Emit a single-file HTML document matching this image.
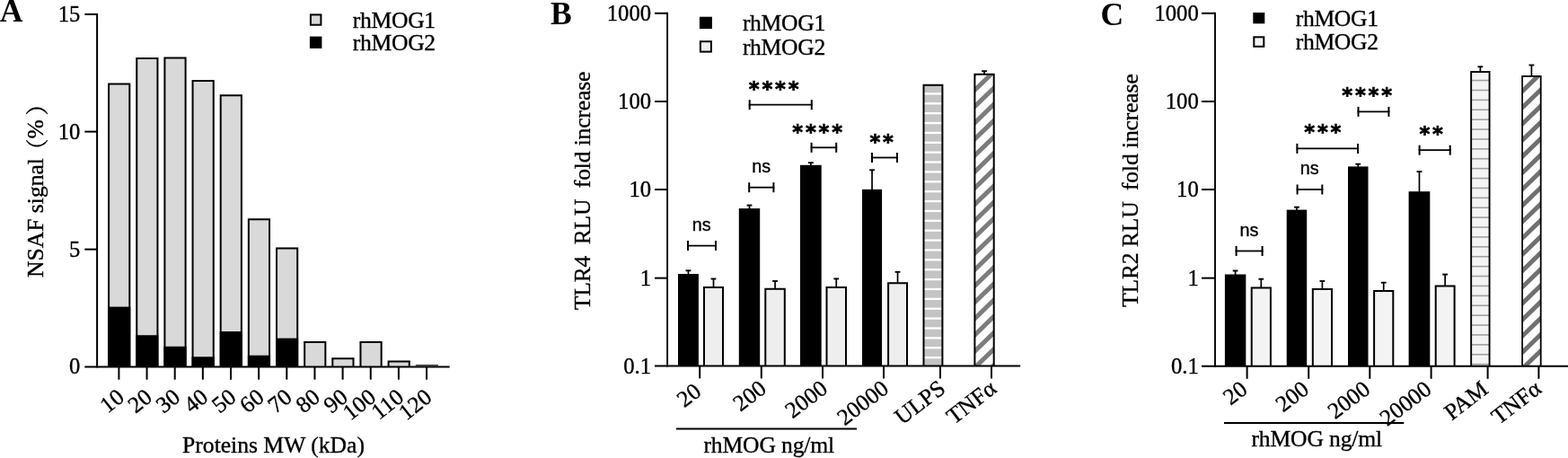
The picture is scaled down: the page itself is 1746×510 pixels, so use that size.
<!DOCTYPE html>
<html><head><meta charset="utf-8"><title>Figure</title>
<style>html,body{margin:0;padding:0;background:#fff;overflow:hidden}svg{display:block}</style>
</head><body>
<svg width="1746" height="510" viewBox="0 0 1746 510">
<rect width="1746" height="510" fill="#fff"/>
<text x="89.30" y="416.30" font-size="25.6" font-family="Liberation Serif, Noto Serif CJK SC, serif" font-weight="normal" text-anchor="end" textLength="12.29" lengthAdjust="spacingAndGlyphs" stroke="#000" stroke-width="0.35">0</text>
<line x1="94.30" y1="277.65" x2="108.10" y2="277.65" stroke="#000" stroke-width="2"/>
<text x="89.30" y="285.55" font-size="25.6" font-family="Liberation Serif, Noto Serif CJK SC, serif" font-weight="normal" text-anchor="end" textLength="12.29" lengthAdjust="spacingAndGlyphs" stroke="#000" stroke-width="0.35">5</text>
<line x1="94.30" y1="146.60" x2="108.10" y2="146.60" stroke="#000" stroke-width="2"/>
<text x="89.30" y="154.50" font-size="25.6" font-family="Liberation Serif, Noto Serif CJK SC, serif" font-weight="normal" text-anchor="end" textLength="24.58" lengthAdjust="spacingAndGlyphs" stroke="#000" stroke-width="0.35">10</text>
<line x1="94.30" y1="15.90" x2="108.10" y2="15.90" stroke="#000" stroke-width="2"/>
<text x="89.30" y="23.80" font-size="25.6" font-family="Liberation Serif, Noto Serif CJK SC, serif" font-weight="normal" text-anchor="end" textLength="24.58" lengthAdjust="spacingAndGlyphs" stroke="#000" stroke-width="0.35">15</text>
<rect x="121.10" y="93.50" width="23.20" height="314.90" fill="#d9d9d9"/>
<path d="M121.10 408.40V93.50H144.30V408.40" fill="none" stroke="#000" stroke-width="2"/>
<rect x="120.10" y="341.60" width="25.20" height="66.80" fill="#000"/>
<line x1="132.40" y1="408.40" x2="132.40" y2="422.70" stroke="#000" stroke-width="2"/>
<text x="139.90" y="445.00" font-size="25.6" font-family="Liberation Serif, Noto Serif CJK SC, serif" font-weight="normal" text-anchor="end" transform="rotate(-38.5 139.90 445.00)" stroke="#000" stroke-width="0.35">10</text>
<rect x="152.25" y="65.00" width="23.20" height="343.40" fill="#d9d9d9"/>
<path d="M152.25 408.40V65.00H175.45V408.40" fill="none" stroke="#000" stroke-width="2"/>
<rect x="151.25" y="373.23" width="25.20" height="35.17" fill="#000"/>
<line x1="163.55" y1="408.40" x2="163.55" y2="422.70" stroke="#000" stroke-width="2"/>
<text x="171.05" y="445.00" font-size="25.6" font-family="Liberation Serif, Noto Serif CJK SC, serif" font-weight="normal" text-anchor="end" transform="rotate(-38.5 171.05 445.00)" stroke="#000" stroke-width="0.35">20</text>
<rect x="183.40" y="64.48" width="23.20" height="343.92" fill="#d9d9d9"/>
<path d="M183.40 408.40V64.48H206.60V408.40" fill="none" stroke="#000" stroke-width="2"/>
<rect x="182.40" y="385.78" width="25.20" height="22.62" fill="#000"/>
<line x1="194.70" y1="408.40" x2="194.70" y2="422.70" stroke="#000" stroke-width="2"/>
<text x="202.20" y="445.00" font-size="25.6" font-family="Liberation Serif, Noto Serif CJK SC, serif" font-weight="normal" text-anchor="end" transform="rotate(-38.5 202.20 445.00)" stroke="#000" stroke-width="0.35">30</text>
<rect x="214.55" y="90.10" width="23.20" height="318.30" fill="#d9d9d9"/>
<path d="M214.55 408.40V90.10H237.75V408.40" fill="none" stroke="#000" stroke-width="2"/>
<rect x="213.55" y="397.28" width="25.20" height="11.12" fill="#000"/>
<line x1="225.85" y1="408.40" x2="225.85" y2="422.70" stroke="#000" stroke-width="2"/>
<text x="233.35" y="445.00" font-size="25.6" font-family="Liberation Serif, Noto Serif CJK SC, serif" font-weight="normal" text-anchor="end" transform="rotate(-38.5 233.35 445.00)" stroke="#000" stroke-width="0.35">40</text>
<rect x="245.70" y="106.31" width="23.20" height="302.09" fill="#d9d9d9"/>
<path d="M245.70 408.40V106.31H268.90V408.40" fill="none" stroke="#000" stroke-width="2"/>
<rect x="244.70" y="369.05" width="25.20" height="39.35" fill="#000"/>
<line x1="257.00" y1="408.40" x2="257.00" y2="422.70" stroke="#000" stroke-width="2"/>
<text x="264.50" y="445.00" font-size="25.6" font-family="Liberation Serif, Noto Serif CJK SC, serif" font-weight="normal" text-anchor="end" transform="rotate(-38.5 264.50 445.00)" stroke="#000" stroke-width="0.35">50</text>
<rect x="276.85" y="244.32" width="23.20" height="164.07" fill="#d9d9d9"/>
<path d="M276.85 408.40V244.32H300.05V408.40" fill="none" stroke="#000" stroke-width="2"/>
<rect x="275.85" y="395.71" width="25.20" height="12.69" fill="#000"/>
<line x1="288.15" y1="408.40" x2="288.15" y2="422.70" stroke="#000" stroke-width="2"/>
<text x="295.65" y="445.00" font-size="25.6" font-family="Liberation Serif, Noto Serif CJK SC, serif" font-weight="normal" text-anchor="end" transform="rotate(-38.5 295.65 445.00)" stroke="#000" stroke-width="0.35">60</text>
<rect x="308.00" y="276.48" width="23.20" height="131.92" fill="#d9d9d9"/>
<path d="M308.00 408.40V276.48H331.20V408.40" fill="none" stroke="#000" stroke-width="2"/>
<rect x="307.00" y="376.63" width="25.20" height="31.77" fill="#000"/>
<line x1="319.30" y1="408.40" x2="319.30" y2="422.70" stroke="#000" stroke-width="2"/>
<text x="326.80" y="445.00" font-size="25.6" font-family="Liberation Serif, Noto Serif CJK SC, serif" font-weight="normal" text-anchor="end" transform="rotate(-38.5 326.80 445.00)" stroke="#000" stroke-width="0.35">70</text>
<rect x="339.15" y="381.04" width="23.20" height="27.36" fill="#d9d9d9"/>
<path d="M339.15 408.40V381.04H362.35V408.40" fill="none" stroke="#000" stroke-width="2"/>
<line x1="350.45" y1="408.40" x2="350.45" y2="422.70" stroke="#000" stroke-width="2"/>
<text x="357.95" y="445.00" font-size="25.6" font-family="Liberation Serif, Noto Serif CJK SC, serif" font-weight="normal" text-anchor="end" transform="rotate(-38.5 357.95 445.00)" stroke="#000" stroke-width="0.35">80</text>
<rect x="370.30" y="399.34" width="23.20" height="9.06" fill="#d9d9d9"/>
<path d="M370.30 408.40V399.34H393.50V408.40" fill="none" stroke="#000" stroke-width="2"/>
<line x1="381.60" y1="408.40" x2="381.60" y2="422.70" stroke="#000" stroke-width="2"/>
<text x="389.10" y="445.00" font-size="25.6" font-family="Liberation Serif, Noto Serif CJK SC, serif" font-weight="normal" text-anchor="end" transform="rotate(-38.5 389.10 445.00)" stroke="#000" stroke-width="0.35">90</text>
<rect x="401.45" y="381.04" width="23.20" height="27.36" fill="#d9d9d9"/>
<path d="M401.45 408.40V381.04H424.65V408.40" fill="none" stroke="#000" stroke-width="2"/>
<line x1="412.75" y1="408.40" x2="412.75" y2="422.70" stroke="#000" stroke-width="2"/>
<text x="420.25" y="445.00" font-size="25.6" font-family="Liberation Serif, Noto Serif CJK SC, serif" font-weight="normal" text-anchor="end" transform="rotate(-38.5 420.25 445.00)" stroke="#000" stroke-width="0.35">100</text>
<rect x="432.60" y="402.47" width="23.20" height="5.93" fill="#d9d9d9"/>
<path d="M432.60 408.40V402.47H455.80V408.40" fill="none" stroke="#000" stroke-width="2"/>
<line x1="443.90" y1="408.40" x2="443.90" y2="422.70" stroke="#000" stroke-width="2"/>
<text x="451.40" y="445.00" font-size="25.6" font-family="Liberation Serif, Noto Serif CJK SC, serif" font-weight="normal" text-anchor="end" transform="rotate(-38.5 451.40 445.00)" stroke="#000" stroke-width="0.35">110</text>
<line x1="462.75" y1="406.80" x2="487.95" y2="406.80" stroke="#000" stroke-width="1.2"/>
<line x1="475.05" y1="408.40" x2="475.05" y2="422.70" stroke="#000" stroke-width="2"/>
<text x="482.55" y="445.00" font-size="25.6" font-family="Liberation Serif, Noto Serif CJK SC, serif" font-weight="normal" text-anchor="end" transform="rotate(-38.5 482.55 445.00)" stroke="#000" stroke-width="0.35">120</text>
<line x1="108.10" y1="14.90" x2="108.10" y2="409.40" stroke="#000" stroke-width="2"/>
<line x1="94.30" y1="408.40" x2="500.70" y2="408.40" stroke="#000" stroke-width="2.0"/>
<text x="304.50" y="503.70" font-size="25.6" font-family="Liberation Serif, Noto Serif CJK SC, serif" font-weight="normal" text-anchor="middle" stroke="#000" stroke-width="0.35">Proteins MW (kDa)</text>
<text x="47.50" y="309.00" font-size="25.6" font-family="Liberation Serif, Noto Serif CJK SC, serif" font-weight="normal" text-anchor="start" transform="rotate(-90 47.50 309.00)" stroke="#000" stroke-width="0.35">NSAF signal<tspan dx="-4" dy="3">（</tspan><tspan dy="-3">%</tspan><tspan dx="4.5" dy="3">）</tspan></text>
<text x="-0.30" y="24.00" font-size="35.6" font-family="Liberation Serif, Noto Serif CJK SC, serif" font-weight="bold" text-anchor="start">A</text>
<rect x="345.90" y="16.40" width="11.50" height="11.30" fill="#d9d9d9" stroke="#000" stroke-width="2"/>
<rect x="345.90" y="41.60" width="11.50" height="11.30" fill="#000" stroke="#000" stroke-width="2"/>
<text x="392.80" y="31.20" font-size="25.6" font-family="Liberation Serif, Noto Serif CJK SC, serif" font-weight="normal" text-anchor="start" letter-spacing="-0.3" stroke="#000" stroke-width="0.35">rhMOG1</text>
<text x="392.80" y="55.80" font-size="25.6" font-family="Liberation Serif, Noto Serif CJK SC, serif" font-weight="normal" text-anchor="start" letter-spacing="-0.3" stroke="#000" stroke-width="0.35">rhMOG2</text>
<defs>
<pattern id="hB" width="20" height="10.83" patternUnits="userSpaceOnUse" y="4.4"><rect width="20" height="10.83" fill="#c4c4c4"/><rect y="0" width="20" height="2.2" fill="#fff"/></pattern>
<pattern id="hC" width="20" height="10.83" patternUnits="userSpaceOnUse"><rect width="20" height="10.83" fill="#f4f4f4"/><rect y="0" width="20" height="1.3" fill="#999"/></pattern>
<pattern id="dg" width="10.8" height="10.8" patternUnits="userSpaceOnUse" patternTransform="rotate(-45)"><rect width="10.8" height="10.8" fill="#fff"/><rect y="0" width="10.8" height="4.2" fill="#7a7a7a"/></pattern>
</defs>
<line x1="729.00" y1="14.80" x2="743.00" y2="14.80" stroke="#000" stroke-width="2"/>
<text x="725.15" y="22.90" font-size="25.6" font-family="Liberation Serif, Noto Serif CJK SC, serif" font-weight="normal" text-anchor="end" textLength="49.41" lengthAdjust="spacingAndGlyphs" stroke="#000" stroke-width="0.35">1000</text>
<line x1="729.00" y1="113.00" x2="743.00" y2="113.00" stroke="#000" stroke-width="2"/>
<text x="725.15" y="121.10" font-size="25.6" font-family="Liberation Serif, Noto Serif CJK SC, serif" font-weight="normal" text-anchor="end" textLength="37.06" lengthAdjust="spacingAndGlyphs" stroke="#000" stroke-width="0.35">100</text>
<line x1="729.00" y1="211.05" x2="743.00" y2="211.05" stroke="#000" stroke-width="2"/>
<text x="725.15" y="219.15" font-size="25.6" font-family="Liberation Serif, Noto Serif CJK SC, serif" font-weight="normal" text-anchor="end" textLength="24.70" lengthAdjust="spacingAndGlyphs" stroke="#000" stroke-width="0.35">10</text>
<line x1="729.00" y1="309.65" x2="743.00" y2="309.65" stroke="#000" stroke-width="2"/>
<text x="725.15" y="317.75" font-size="25.6" font-family="Liberation Serif, Noto Serif CJK SC, serif" font-weight="normal" text-anchor="end" textLength="12.35" lengthAdjust="spacingAndGlyphs" stroke="#000" stroke-width="0.35">1</text>
<text x="725.15" y="415.50" font-size="25.6" font-family="Liberation Serif, Noto Serif CJK SC, serif" font-weight="normal" text-anchor="end" textLength="30.88" lengthAdjust="spacingAndGlyphs" stroke="#000" stroke-width="0.35">0.1</text>
<line x1="766.45" y1="301.30" x2="766.45" y2="306.40" stroke="#000" stroke-width="1.7"/>
<line x1="763.55" y1="301.30" x2="769.35" y2="301.30" stroke="#000" stroke-width="1.9"/>
<rect x="755.00" y="305.00" width="22.90" height="102.40" fill="#000"/>
<line x1="794.50" y1="310.50" x2="794.50" y2="320.40" stroke="#000" stroke-width="1.7"/>
<line x1="791.60" y1="310.50" x2="797.40" y2="310.50" stroke="#000" stroke-width="1.9"/>
<rect x="784.00" y="320.00" width="21.00" height="87.40" fill="#eeeeee"/>
<path d="M784.00 407.40V320.00H805.00V407.40" fill="none" stroke="#000" stroke-width="2"/>
<line x1="834.50" y1="228.60" x2="834.50" y2="233.50" stroke="#000" stroke-width="1.7"/>
<line x1="831.60" y1="228.60" x2="837.40" y2="228.60" stroke="#000" stroke-width="1.9"/>
<rect x="822.80" y="232.10" width="23.40" height="175.30" fill="#000"/>
<line x1="863.05" y1="313.00" x2="863.05" y2="322.20" stroke="#000" stroke-width="1.7"/>
<line x1="860.15" y1="313.00" x2="865.95" y2="313.00" stroke="#000" stroke-width="1.9"/>
<rect x="852.30" y="321.80" width="21.50" height="85.60" fill="#eeeeee"/>
<path d="M852.30 407.40V321.80H873.80V407.40" fill="none" stroke="#000" stroke-width="2"/>
<line x1="902.85" y1="181.20" x2="902.85" y2="185.20" stroke="#000" stroke-width="1.7"/>
<line x1="899.95" y1="181.20" x2="905.75" y2="181.20" stroke="#000" stroke-width="1.9"/>
<rect x="891.00" y="183.80" width="23.70" height="223.60" fill="#000"/>
<line x1="931.25" y1="310.40" x2="931.25" y2="320.30" stroke="#000" stroke-width="1.7"/>
<line x1="928.35" y1="310.40" x2="934.15" y2="310.40" stroke="#000" stroke-width="1.9"/>
<rect x="920.50" y="319.90" width="21.50" height="87.50" fill="#eeeeee"/>
<path d="M920.50 407.40V319.90H942.00V407.40" fill="none" stroke="#000" stroke-width="2"/>
<line x1="971.05" y1="189.30" x2="971.05" y2="212.30" stroke="#000" stroke-width="1.7"/>
<line x1="968.15" y1="189.30" x2="973.95" y2="189.30" stroke="#000" stroke-width="1.9"/>
<rect x="960.00" y="210.90" width="22.10" height="196.50" fill="#000"/>
<line x1="999.55" y1="302.80" x2="999.55" y2="315.70" stroke="#000" stroke-width="1.7"/>
<line x1="996.65" y1="302.80" x2="1002.45" y2="302.80" stroke="#000" stroke-width="1.9"/>
<rect x="989.10" y="315.30" width="20.90" height="92.10" fill="#eeeeee"/>
<path d="M989.10 407.40V315.30H1010.00V407.40" fill="none" stroke="#000" stroke-width="2"/>
<clipPath id="c1"><rect x="1028.50" y="94.80" width="20.90" height="312.60"/></clipPath>
<g clip-path="url(#c1)">
<rect x="1027.50" y="93.80" width="22.90" height="313.60" fill="#c4c4c4"/>
<rect x="1027.50" y="92.36" width="22.90" height="2.30" fill="#fff"/>
<rect x="1027.50" y="103.24" width="22.90" height="2.30" fill="#fff"/>
<rect x="1027.50" y="114.12" width="22.90" height="2.30" fill="#fff"/>
<rect x="1027.50" y="125.00" width="22.90" height="2.30" fill="#fff"/>
<rect x="1027.50" y="135.88" width="22.90" height="2.30" fill="#fff"/>
<rect x="1027.50" y="146.76" width="22.90" height="2.30" fill="#fff"/>
<rect x="1027.50" y="157.64" width="22.90" height="2.30" fill="#fff"/>
<rect x="1027.50" y="168.52" width="22.90" height="2.30" fill="#fff"/>
<rect x="1027.50" y="179.40" width="22.90" height="2.30" fill="#fff"/>
<rect x="1027.50" y="190.28" width="22.90" height="2.30" fill="#fff"/>
<rect x="1027.50" y="201.16" width="22.90" height="2.30" fill="#fff"/>
<rect x="1027.50" y="212.04" width="22.90" height="2.30" fill="#fff"/>
<rect x="1027.50" y="222.92" width="22.90" height="2.30" fill="#fff"/>
<rect x="1027.50" y="233.80" width="22.90" height="2.30" fill="#fff"/>
<rect x="1027.50" y="244.68" width="22.90" height="2.30" fill="#fff"/>
<rect x="1027.50" y="255.56" width="22.90" height="2.30" fill="#fff"/>
<rect x="1027.50" y="266.44" width="22.90" height="2.30" fill="#fff"/>
<rect x="1027.50" y="277.32" width="22.90" height="2.30" fill="#fff"/>
<rect x="1027.50" y="288.20" width="22.90" height="2.30" fill="#fff"/>
<rect x="1027.50" y="299.08" width="22.90" height="2.30" fill="#fff"/>
<rect x="1027.50" y="309.96" width="22.90" height="2.30" fill="#fff"/>
<rect x="1027.50" y="320.84" width="22.90" height="2.30" fill="#fff"/>
<rect x="1027.50" y="331.72" width="22.90" height="2.30" fill="#fff"/>
<rect x="1027.50" y="342.60" width="22.90" height="2.30" fill="#fff"/>
<rect x="1027.50" y="353.48" width="22.90" height="2.30" fill="#fff"/>
<rect x="1027.50" y="364.36" width="22.90" height="2.30" fill="#fff"/>
<rect x="1027.50" y="375.24" width="22.90" height="2.30" fill="#fff"/>
<rect x="1027.50" y="386.12" width="22.90" height="2.30" fill="#fff"/>
<rect x="1027.50" y="397.00" width="22.90" height="2.30" fill="#fff"/>
<rect x="1027.50" y="407.88" width="22.90" height="2.30" fill="#fff"/>
</g>
<path d="M1028.50 407.40V94.80H1049.40V407.40" fill="none" stroke="#000" stroke-width="2"/>
<line x1="1096.05" y1="79.20" x2="1096.05" y2="82.80" stroke="#000" stroke-width="1.7"/>
<line x1="1093.15" y1="79.20" x2="1098.95" y2="79.20" stroke="#000" stroke-width="1.9"/>
<clipPath id="c2"><rect x="1085.40" y="82.80" width="21.30" height="324.60"/></clipPath>
<g clip-path="url(#c2)">
<rect x="1084.40" y="81.80" width="23.30" height="325.60" fill="#fff"/>
<polygon points="1084.40,79.74 1107.70,57.14 1107.70,64.14 1084.40,86.74" fill="#7c7c7c"/>
<polygon points="1084.40,97.91 1107.70,75.31 1107.70,82.31 1084.40,104.91" fill="#7c7c7c"/>
<polygon points="1084.40,116.08 1107.70,93.48 1107.70,100.48 1084.40,123.08" fill="#7c7c7c"/>
<polygon points="1084.40,134.25 1107.70,111.65 1107.70,118.65 1084.40,141.25" fill="#7c7c7c"/>
<polygon points="1084.40,152.42 1107.70,129.82 1107.70,136.82 1084.40,159.42" fill="#7c7c7c"/>
<polygon points="1084.40,170.59 1107.70,147.99 1107.70,154.99 1084.40,177.59" fill="#7c7c7c"/>
<polygon points="1084.40,188.76 1107.70,166.16 1107.70,173.16 1084.40,195.76" fill="#7c7c7c"/>
<polygon points="1084.40,206.93 1107.70,184.33 1107.70,191.33 1084.40,213.93" fill="#7c7c7c"/>
<polygon points="1084.40,225.10 1107.70,202.50 1107.70,209.50 1084.40,232.10" fill="#7c7c7c"/>
<polygon points="1084.40,243.27 1107.70,220.67 1107.70,227.67 1084.40,250.27" fill="#7c7c7c"/>
<polygon points="1084.40,261.44 1107.70,238.84 1107.70,245.84 1084.40,268.44" fill="#7c7c7c"/>
<polygon points="1084.40,279.61 1107.70,257.01 1107.70,264.01 1084.40,286.61" fill="#7c7c7c"/>
<polygon points="1084.40,297.78 1107.70,275.18 1107.70,282.18 1084.40,304.78" fill="#7c7c7c"/>
<polygon points="1084.40,315.95 1107.70,293.35 1107.70,300.35 1084.40,322.95" fill="#7c7c7c"/>
<polygon points="1084.40,334.12 1107.70,311.52 1107.70,318.52 1084.40,341.12" fill="#7c7c7c"/>
<polygon points="1084.40,352.29 1107.70,329.69 1107.70,336.69 1084.40,359.29" fill="#7c7c7c"/>
<polygon points="1084.40,370.46 1107.70,347.86 1107.70,354.86 1084.40,377.46" fill="#7c7c7c"/>
<polygon points="1084.40,388.63 1107.70,366.03 1107.70,373.03 1084.40,395.63" fill="#7c7c7c"/>
<polygon points="1084.40,406.80 1107.70,384.20 1107.70,391.20 1084.40,413.80" fill="#7c7c7c"/>
<polygon points="1084.40,424.97 1107.70,402.37 1107.70,409.37 1084.40,431.97" fill="#7c7c7c"/>
<polygon points="1084.40,443.14 1107.70,420.54 1107.70,427.54 1084.40,450.14" fill="#7c7c7c"/>
<polygon points="1084.40,461.31 1107.70,438.71 1107.70,445.71 1084.40,468.31" fill="#7c7c7c"/>
</g>
<path d="M1085.40 407.40V82.80H1106.70V407.40" fill="none" stroke="#000" stroke-width="2"/>
<line x1="743.10" y1="13.80" x2="743.10" y2="408.40" stroke="#000" stroke-width="1.9"/>
<line x1="729.00" y1="407.40" x2="1136.20" y2="407.40" stroke="#000" stroke-width="2.0"/>
<line x1="779.20" y1="407.40" x2="779.20" y2="421.40" stroke="#000" stroke-width="2"/>
<text x="782.40" y="439.00" font-size="25.6" font-family="Liberation Serif, Noto Serif CJK SC, serif" font-weight="normal" text-anchor="end" transform="rotate(-37.5 782.40 439.00)" stroke="#000" stroke-width="0.35">20</text>
<line x1="847.80" y1="407.40" x2="847.80" y2="421.40" stroke="#000" stroke-width="2"/>
<text x="855.00" y="435.70" font-size="25.6" font-family="Liberation Serif, Noto Serif CJK SC, serif" font-weight="normal" text-anchor="end" transform="rotate(-37.5 855.00 435.70)" stroke="#000" stroke-width="0.35">200</text>
<line x1="916.00" y1="407.40" x2="916.00" y2="421.40" stroke="#000" stroke-width="2"/>
<text x="923.20" y="435.70" font-size="25.6" font-family="Liberation Serif, Noto Serif CJK SC, serif" font-weight="normal" text-anchor="end" transform="rotate(-37.5 923.20 435.70)" stroke="#000" stroke-width="0.35">2000</text>
<line x1="984.00" y1="407.40" x2="984.00" y2="421.40" stroke="#000" stroke-width="2"/>
<text x="991.20" y="435.70" font-size="25.6" font-family="Liberation Serif, Noto Serif CJK SC, serif" font-weight="normal" text-anchor="end" transform="rotate(-37.5 991.20 435.70)" stroke="#000" stroke-width="0.35">20000</text>
<line x1="1047.00" y1="407.40" x2="1047.00" y2="421.40" stroke="#000" stroke-width="2"/>
<text x="1054.20" y="435.70" font-size="25.6" font-family="Liberation Serif, Noto Serif CJK SC, serif" font-weight="normal" text-anchor="end" transform="rotate(-37.5 1054.20 435.70)" stroke="#000" stroke-width="0.35">ULPS</text>
<line x1="1104.00" y1="407.40" x2="1104.00" y2="421.40" stroke="#000" stroke-width="2"/>
<text x="1111.20" y="435.70" font-size="25.6" font-family="Liberation Serif, Noto Serif CJK SC, serif" font-weight="normal" text-anchor="end" transform="rotate(-37.5 1111.20 435.70)" stroke="#000" stroke-width="0.35">TNFα</text>
<line x1="753.00" y1="477.40" x2="954.00" y2="477.40" stroke="#000" stroke-width="2"/>
<text x="856.20" y="504.00" font-size="25.6" font-family="Liberation Serif, Noto Serif CJK SC, serif" font-weight="normal" text-anchor="middle" letter-spacing="-0.15" stroke="#000" stroke-width="0.35">rhMOG ng/ml</text>
<text x="656.70" y="345.30" font-size="25.6" font-family="Liberation Serif, Noto Serif CJK SC, serif" font-weight="normal" text-anchor="start" transform="rotate(-90 656.70 345.30)" xml:space="preserve" textLength="265.7" stroke="#000" stroke-width="0.35">TLR4  RLU  fold increase</text>
<text x="613.00" y="26.85" font-size="35.6" font-family="Liberation Serif, Noto Serif CJK SC, serif" font-weight="bold" text-anchor="start">B</text>
<rect x="779.90" y="19.70" width="12.00" height="11.40" fill="#000" stroke="#000" stroke-width="2"/>
<rect x="779.90" y="46.20" width="12.00" height="11.40" fill="#eeeeee" stroke="#000" stroke-width="2"/>
<text x="826.90" y="34.40" font-size="25.6" font-family="Liberation Serif, Noto Serif CJK SC, serif" font-weight="normal" text-anchor="start" letter-spacing="-0.3" stroke="#000" stroke-width="0.35">rhMOG1</text>
<text x="826.90" y="61.20" font-size="25.6" font-family="Liberation Serif, Noto Serif CJK SC, serif" font-weight="normal" text-anchor="start" letter-spacing="-0.3" stroke="#000" stroke-width="0.35">rhMOG2</text>
<line x1="765.00" y1="273.60" x2="798.00" y2="273.60" stroke="#000" stroke-width="1.8"/>
<line x1="766.00" y1="268.10" x2="766.00" y2="279.10" stroke="#000" stroke-width="2"/>
<line x1="797.00" y1="268.10" x2="797.00" y2="279.10" stroke="#000" stroke-width="2"/>
<text x="781.20" y="257.20" font-size="19.8" font-family="Liberation Sans, sans-serif" font-weight="normal" text-anchor="middle" stroke="#000" stroke-width="0.35">ns</text>
<line x1="833.20" y1="208.70" x2="862.40" y2="208.70" stroke="#000" stroke-width="1.8"/>
<line x1="834.20" y1="203.20" x2="834.20" y2="214.20" stroke="#000" stroke-width="2"/>
<line x1="861.40" y1="203.20" x2="861.40" y2="214.20" stroke="#000" stroke-width="2"/>
<text x="847.80" y="192.40" font-size="19.8" font-family="Liberation Sans, sans-serif" font-weight="normal" text-anchor="middle" stroke="#000" stroke-width="0.35">ns</text>
<line x1="833.70" y1="116.70" x2="904.80" y2="116.70" stroke="#000" stroke-width="1.8"/>
<line x1="834.70" y1="111.20" x2="834.70" y2="122.20" stroke="#000" stroke-width="2"/>
<line x1="903.80" y1="111.20" x2="903.80" y2="122.20" stroke="#000" stroke-width="2"/>
<text x="833.80" y="106.80" font-size="22.6" font-family="DejaVu Sans, Liberation Sans, sans-serif" font-weight="bold" text-anchor="start" letter-spacing="2.8" stroke="#000" stroke-width="0.7">****</text>
<line x1="902.60" y1="164.30" x2="932.20" y2="164.30" stroke="#000" stroke-width="1.8"/>
<line x1="903.60" y1="158.80" x2="903.60" y2="169.80" stroke="#000" stroke-width="2"/>
<line x1="931.20" y1="158.80" x2="931.20" y2="169.80" stroke="#000" stroke-width="2"/>
<text x="882.30" y="154.80" font-size="22.6" font-family="DejaVu Sans, Liberation Sans, sans-serif" font-weight="bold" text-anchor="start" letter-spacing="2.8" stroke="#000" stroke-width="0.7">****</text>
<line x1="970.00" y1="175.50" x2="1000.00" y2="175.50" stroke="#000" stroke-width="1.8"/>
<line x1="971.00" y1="170.00" x2="971.00" y2="181.00" stroke="#000" stroke-width="2"/>
<line x1="999.00" y1="170.00" x2="999.00" y2="181.00" stroke="#000" stroke-width="2"/>
<text x="968.50" y="165.80" font-size="22.6" font-family="DejaVu Sans, Liberation Sans, sans-serif" font-weight="bold" text-anchor="start" letter-spacing="2.8" stroke="#000" stroke-width="0.7">**</text>
<line x1="1338.00" y1="14.80" x2="1352.90" y2="14.80" stroke="#000" stroke-width="2"/>
<text x="1334.80" y="22.90" font-size="25.6" font-family="Liberation Serif, Noto Serif CJK SC, serif" font-weight="normal" text-anchor="end" textLength="49.41" lengthAdjust="spacingAndGlyphs" stroke="#000" stroke-width="0.35">1000</text>
<line x1="1338.00" y1="113.00" x2="1352.90" y2="113.00" stroke="#000" stroke-width="2"/>
<text x="1334.80" y="121.10" font-size="25.6" font-family="Liberation Serif, Noto Serif CJK SC, serif" font-weight="normal" text-anchor="end" textLength="37.06" lengthAdjust="spacingAndGlyphs" stroke="#000" stroke-width="0.35">100</text>
<line x1="1338.00" y1="211.05" x2="1352.90" y2="211.05" stroke="#000" stroke-width="2"/>
<text x="1334.80" y="219.15" font-size="25.6" font-family="Liberation Serif, Noto Serif CJK SC, serif" font-weight="normal" text-anchor="end" textLength="24.70" lengthAdjust="spacingAndGlyphs" stroke="#000" stroke-width="0.35">10</text>
<line x1="1338.00" y1="309.65" x2="1352.90" y2="309.65" stroke="#000" stroke-width="2"/>
<text x="1334.80" y="317.75" font-size="25.6" font-family="Liberation Serif, Noto Serif CJK SC, serif" font-weight="normal" text-anchor="end" textLength="12.35" lengthAdjust="spacingAndGlyphs" stroke="#000" stroke-width="0.35">1</text>
<text x="1334.80" y="415.90" font-size="25.6" font-family="Liberation Serif, Noto Serif CJK SC, serif" font-weight="normal" text-anchor="end" textLength="30.88" lengthAdjust="spacingAndGlyphs" stroke="#000" stroke-width="0.35">0.1</text>
<line x1="1375.60" y1="301.50" x2="1375.60" y2="306.90" stroke="#000" stroke-width="1.7"/>
<line x1="1372.70" y1="301.50" x2="1378.50" y2="301.50" stroke="#000" stroke-width="1.9"/>
<rect x="1363.90" y="305.50" width="23.40" height="102.30" fill="#000"/>
<line x1="1404.30" y1="310.70" x2="1404.30" y2="320.90" stroke="#000" stroke-width="1.7"/>
<line x1="1401.40" y1="310.70" x2="1407.20" y2="310.70" stroke="#000" stroke-width="1.9"/>
<rect x="1393.70" y="320.50" width="21.20" height="87.30" fill="#f3f3f3"/>
<path d="M1393.70 407.80V320.50H1414.90V407.80" fill="none" stroke="#000" stroke-width="2"/>
<line x1="1443.95" y1="230.70" x2="1443.95" y2="235.00" stroke="#000" stroke-width="1.7"/>
<line x1="1441.05" y1="230.70" x2="1446.85" y2="230.70" stroke="#000" stroke-width="1.9"/>
<rect x="1432.70" y="233.60" width="22.50" height="174.20" fill="#000"/>
<line x1="1472.40" y1="313.00" x2="1472.40" y2="322.40" stroke="#000" stroke-width="1.7"/>
<line x1="1469.50" y1="313.00" x2="1475.30" y2="313.00" stroke="#000" stroke-width="1.9"/>
<rect x="1461.80" y="322.00" width="21.20" height="85.80" fill="#f3f3f3"/>
<path d="M1461.80 407.80V322.00H1483.00V407.80" fill="none" stroke="#000" stroke-width="2"/>
<line x1="1512.25" y1="182.70" x2="1512.25" y2="186.80" stroke="#000" stroke-width="1.7"/>
<line x1="1509.35" y1="182.70" x2="1515.15" y2="182.70" stroke="#000" stroke-width="1.9"/>
<rect x="1501.00" y="185.40" width="22.50" height="222.40" fill="#000"/>
<line x1="1540.70" y1="314.70" x2="1540.70" y2="324.40" stroke="#000" stroke-width="1.7"/>
<line x1="1537.80" y1="314.70" x2="1543.60" y2="314.70" stroke="#000" stroke-width="1.9"/>
<rect x="1530.10" y="324.00" width="21.20" height="83.80" fill="#f3f3f3"/>
<path d="M1530.10 407.80V324.00H1551.30V407.80" fill="none" stroke="#000" stroke-width="2"/>
<line x1="1580.45" y1="191.10" x2="1580.45" y2="214.60" stroke="#000" stroke-width="1.7"/>
<line x1="1577.55" y1="191.10" x2="1583.35" y2="191.10" stroke="#000" stroke-width="1.9"/>
<rect x="1568.60" y="213.20" width="23.70" height="194.60" fill="#000"/>
<line x1="1609.15" y1="305.60" x2="1609.15" y2="318.80" stroke="#000" stroke-width="1.7"/>
<line x1="1606.25" y1="305.60" x2="1612.05" y2="305.60" stroke="#000" stroke-width="1.9"/>
<rect x="1598.70" y="318.40" width="20.90" height="89.40" fill="#f3f3f3"/>
<path d="M1598.70 407.80V318.40H1619.60V407.80" fill="none" stroke="#000" stroke-width="2"/>
<line x1="1648.35" y1="74.30" x2="1648.35" y2="80.00" stroke="#000" stroke-width="1.7"/>
<line x1="1645.45" y1="74.30" x2="1651.25" y2="74.30" stroke="#000" stroke-width="1.9"/>
<clipPath id="c3"><rect x="1638.20" y="80.00" width="20.30" height="327.80"/></clipPath>
<g clip-path="url(#c3)">
<rect x="1637.20" y="79.00" width="22.30" height="328.80" fill="#f4f4f4"/>
<rect x="1637.20" y="77.85" width="22.30" height="1.60" fill="#a0a0a0"/>
<rect x="1637.20" y="88.75" width="22.30" height="1.60" fill="#a0a0a0"/>
<rect x="1637.20" y="99.65" width="22.30" height="1.60" fill="#a0a0a0"/>
<rect x="1637.20" y="110.55" width="22.30" height="1.60" fill="#a0a0a0"/>
<rect x="1637.20" y="121.45" width="22.30" height="1.60" fill="#a0a0a0"/>
<rect x="1637.20" y="132.35" width="22.30" height="1.60" fill="#a0a0a0"/>
<rect x="1637.20" y="143.25" width="22.30" height="1.60" fill="#a0a0a0"/>
<rect x="1637.20" y="154.15" width="22.30" height="1.60" fill="#a0a0a0"/>
<rect x="1637.20" y="165.05" width="22.30" height="1.60" fill="#a0a0a0"/>
<rect x="1637.20" y="175.95" width="22.30" height="1.60" fill="#a0a0a0"/>
<rect x="1637.20" y="186.85" width="22.30" height="1.60" fill="#a0a0a0"/>
<rect x="1637.20" y="197.75" width="22.30" height="1.60" fill="#a0a0a0"/>
<rect x="1637.20" y="208.65" width="22.30" height="1.60" fill="#a0a0a0"/>
<rect x="1637.20" y="219.55" width="22.30" height="1.60" fill="#a0a0a0"/>
<rect x="1637.20" y="230.45" width="22.30" height="1.60" fill="#a0a0a0"/>
<rect x="1637.20" y="241.35" width="22.30" height="1.60" fill="#a0a0a0"/>
<rect x="1637.20" y="252.25" width="22.30" height="1.60" fill="#a0a0a0"/>
<rect x="1637.20" y="263.15" width="22.30" height="1.60" fill="#a0a0a0"/>
<rect x="1637.20" y="274.05" width="22.30" height="1.60" fill="#a0a0a0"/>
<rect x="1637.20" y="284.95" width="22.30" height="1.60" fill="#a0a0a0"/>
<rect x="1637.20" y="295.85" width="22.30" height="1.60" fill="#a0a0a0"/>
<rect x="1637.20" y="306.75" width="22.30" height="1.60" fill="#a0a0a0"/>
<rect x="1637.20" y="317.65" width="22.30" height="1.60" fill="#a0a0a0"/>
<rect x="1637.20" y="328.55" width="22.30" height="1.60" fill="#a0a0a0"/>
<rect x="1637.20" y="339.45" width="22.30" height="1.60" fill="#a0a0a0"/>
<rect x="1637.20" y="350.35" width="22.30" height="1.60" fill="#a0a0a0"/>
<rect x="1637.20" y="361.25" width="22.30" height="1.60" fill="#a0a0a0"/>
<rect x="1637.20" y="372.15" width="22.30" height="1.60" fill="#a0a0a0"/>
<rect x="1637.20" y="383.05" width="22.30" height="1.60" fill="#a0a0a0"/>
<rect x="1637.20" y="393.95" width="22.30" height="1.60" fill="#a0a0a0"/>
<rect x="1637.20" y="404.85" width="22.30" height="1.60" fill="#a0a0a0"/>
<rect x="1637.20" y="415.75" width="22.30" height="1.60" fill="#a0a0a0"/>
</g>
<path d="M1638.15 407.80V79.95H1658.55V407.80" fill="none" stroke="#000" stroke-width="1.9"/>
<line x1="1705.40" y1="72.50" x2="1705.40" y2="85.00" stroke="#000" stroke-width="1.7"/>
<line x1="1702.50" y1="72.50" x2="1708.30" y2="72.50" stroke="#000" stroke-width="1.9"/>
<clipPath id="c4"><rect x="1695.20" y="85.00" width="20.40" height="322.80"/></clipPath>
<g clip-path="url(#c4)">
<rect x="1694.20" y="84.00" width="22.40" height="323.80" fill="#fff"/>
<polygon points="1694.20,80.97 1716.60,59.24 1716.60,66.14 1694.20,87.87" fill="#707070"/>
<polygon points="1694.20,99.14 1716.60,77.41 1716.60,84.31 1694.20,106.04" fill="#707070"/>
<polygon points="1694.20,117.31 1716.60,95.58 1716.60,102.48 1694.20,124.21" fill="#707070"/>
<polygon points="1694.20,135.48 1716.60,113.75 1716.60,120.65 1694.20,142.38" fill="#707070"/>
<polygon points="1694.20,153.65 1716.60,131.92 1716.60,138.82 1694.20,160.55" fill="#707070"/>
<polygon points="1694.20,171.82 1716.60,150.09 1716.60,156.99 1694.20,178.72" fill="#707070"/>
<polygon points="1694.20,189.99 1716.60,168.26 1716.60,175.16 1694.20,196.89" fill="#707070"/>
<polygon points="1694.20,208.16 1716.60,186.43 1716.60,193.33 1694.20,215.06" fill="#707070"/>
<polygon points="1694.20,226.33 1716.60,204.60 1716.60,211.50 1694.20,233.23" fill="#707070"/>
<polygon points="1694.20,244.50 1716.60,222.77 1716.60,229.67 1694.20,251.40" fill="#707070"/>
<polygon points="1694.20,262.67 1716.60,240.94 1716.60,247.84 1694.20,269.57" fill="#707070"/>
<polygon points="1694.20,280.84 1716.60,259.11 1716.60,266.01 1694.20,287.74" fill="#707070"/>
<polygon points="1694.20,299.01 1716.60,277.28 1716.60,284.18 1694.20,305.91" fill="#707070"/>
<polygon points="1694.20,317.18 1716.60,295.45 1716.60,302.35 1694.20,324.08" fill="#707070"/>
<polygon points="1694.20,335.35 1716.60,313.62 1716.60,320.52 1694.20,342.25" fill="#707070"/>
<polygon points="1694.20,353.52 1716.60,331.79 1716.60,338.69 1694.20,360.42" fill="#707070"/>
<polygon points="1694.20,371.69 1716.60,349.96 1716.60,356.86 1694.20,378.59" fill="#707070"/>
<polygon points="1694.20,389.86 1716.60,368.13 1716.60,375.03 1694.20,396.76" fill="#707070"/>
<polygon points="1694.20,408.03 1716.60,386.30 1716.60,393.20 1694.20,414.93" fill="#707070"/>
<polygon points="1694.20,426.20 1716.60,404.47 1716.60,411.37 1694.20,433.10" fill="#707070"/>
<polygon points="1694.20,444.37 1716.60,422.64 1716.60,429.54 1694.20,451.27" fill="#707070"/>
<polygon points="1694.20,462.54 1716.60,440.81 1716.60,447.71 1694.20,469.44" fill="#707070"/>
</g>
<path d="M1695.10 407.80V84.90H1715.70V407.80" fill="none" stroke="#000" stroke-width="1.8"/>
<line x1="1353.00" y1="13.80" x2="1353.00" y2="408.80" stroke="#000" stroke-width="1.9"/>
<line x1="1338.00" y1="407.80" x2="1746.00" y2="407.80" stroke="#000" stroke-width="2.0"/>
<line x1="1388.60" y1="407.80" x2="1388.60" y2="421.80" stroke="#000" stroke-width="2"/>
<text x="1390.60" y="436.40" font-size="25.6" font-family="Liberation Serif, Noto Serif CJK SC, serif" font-weight="normal" text-anchor="end" transform="rotate(-37.5 1390.60 436.40)" stroke="#000" stroke-width="0.35">20</text>
<line x1="1457.20" y1="407.80" x2="1457.20" y2="421.80" stroke="#000" stroke-width="2"/>
<text x="1459.20" y="436.40" font-size="25.6" font-family="Liberation Serif, Noto Serif CJK SC, serif" font-weight="normal" text-anchor="end" transform="rotate(-37.5 1459.20 436.40)" stroke="#000" stroke-width="0.35">200</text>
<line x1="1525.30" y1="407.80" x2="1525.30" y2="421.80" stroke="#000" stroke-width="2"/>
<text x="1527.30" y="436.40" font-size="25.6" font-family="Liberation Serif, Noto Serif CJK SC, serif" font-weight="normal" text-anchor="end" transform="rotate(-37.5 1527.30 436.40)" stroke="#000" stroke-width="0.35">2000</text>
<line x1="1593.60" y1="407.80" x2="1593.60" y2="421.80" stroke="#000" stroke-width="2"/>
<text x="1595.60" y="436.40" font-size="25.6" font-family="Liberation Serif, Noto Serif CJK SC, serif" font-weight="normal" text-anchor="end" transform="rotate(-37.5 1595.60 436.40)" stroke="#000" stroke-width="0.35">20000</text>
<line x1="1656.60" y1="407.80" x2="1656.60" y2="421.80" stroke="#000" stroke-width="2"/>
<text x="1658.60" y="436.40" font-size="25.6" font-family="Liberation Serif, Noto Serif CJK SC, serif" font-weight="normal" text-anchor="end" transform="rotate(-37.5 1658.60 436.40)" stroke="#000" stroke-width="0.35">PAM</text>
<line x1="1713.40" y1="407.80" x2="1713.40" y2="421.80" stroke="#000" stroke-width="2"/>
<text x="1717.90" y="435.90" font-size="25.6" font-family="Liberation Serif, Noto Serif CJK SC, serif" font-weight="normal" text-anchor="end" transform="rotate(-37.5 1717.90 435.90)" stroke="#000" stroke-width="0.35">TNFα</text>
<line x1="1363.00" y1="471.10" x2="1563.30" y2="471.10" stroke="#000" stroke-width="2"/>
<text x="1466.20" y="496.70" font-size="25.6" font-family="Liberation Serif, Noto Serif CJK SC, serif" font-weight="normal" text-anchor="middle" letter-spacing="-0.15" stroke="#000" stroke-width="0.35">rhMOG ng/ml</text>
<text x="1267.00" y="342.10" font-size="25.6" font-family="Liberation Serif, Noto Serif CJK SC, serif" font-weight="normal" text-anchor="start" transform="rotate(-90 1267.00 342.10)" xml:space="preserve" textLength="259.9" stroke="#000" stroke-width="0.35">TLR2 RLU  fold increase</text>
<text x="1225.60" y="27.70" font-size="35.6" font-family="Liberation Serif, Noto Serif CJK SC, serif" font-weight="bold" text-anchor="start">C</text>
<rect x="1396.30" y="15.00" width="11.00" height="10.30" fill="#000" stroke="#000" stroke-width="2"/>
<rect x="1396.30" y="41.30" width="11.00" height="10.50" fill="#f3f3f3" stroke="#000" stroke-width="2"/>
<text x="1442.70" y="28.50" font-size="25.6" font-family="Liberation Serif, Noto Serif CJK SC, serif" font-weight="normal" text-anchor="start" letter-spacing="-0.3" stroke="#000" stroke-width="0.35">rhMOG1</text>
<text x="1442.70" y="55.30" font-size="25.6" font-family="Liberation Serif, Noto Serif CJK SC, serif" font-weight="normal" text-anchor="start" letter-spacing="-0.3" stroke="#000" stroke-width="0.35">rhMOG2</text>
<line x1="1375.60" y1="279.50" x2="1406.60" y2="279.50" stroke="#000" stroke-width="1.8"/>
<line x1="1376.60" y1="274.00" x2="1376.60" y2="285.00" stroke="#000" stroke-width="2"/>
<line x1="1405.60" y1="274.00" x2="1405.60" y2="285.00" stroke="#000" stroke-width="2"/>
<text x="1391.00" y="263.00" font-size="19.8" font-family="Liberation Sans, sans-serif" font-weight="normal" text-anchor="middle" stroke="#000" stroke-width="0.35">ns</text>
<line x1="1443.60" y1="211.00" x2="1473.30" y2="211.00" stroke="#000" stroke-width="1.8"/>
<line x1="1444.60" y1="205.50" x2="1444.60" y2="216.50" stroke="#000" stroke-width="2"/>
<line x1="1472.30" y1="205.50" x2="1472.30" y2="216.50" stroke="#000" stroke-width="2"/>
<text x="1458.10" y="193.70" font-size="19.8" font-family="Liberation Sans, sans-serif" font-weight="normal" text-anchor="middle" stroke="#000" stroke-width="0.35">ns</text>
<line x1="1443.40" y1="165.40" x2="1513.00" y2="165.40" stroke="#000" stroke-width="1.8"/>
<line x1="1444.40" y1="159.90" x2="1444.40" y2="170.90" stroke="#000" stroke-width="2"/>
<line x1="1512.00" y1="159.90" x2="1512.00" y2="170.90" stroke="#000" stroke-width="2"/>
<text x="1452.30" y="154.90" font-size="22.6" font-family="DejaVu Sans, Liberation Sans, sans-serif" font-weight="bold" text-anchor="start" letter-spacing="2.8" stroke="#000" stroke-width="0.7">***</text>
<line x1="1511.50" y1="124.40" x2="1547.40" y2="124.40" stroke="#000" stroke-width="1.8"/>
<line x1="1512.50" y1="118.90" x2="1512.50" y2="129.90" stroke="#000" stroke-width="2"/>
<line x1="1546.40" y1="118.90" x2="1546.40" y2="129.90" stroke="#000" stroke-width="2"/>
<text x="1494.30" y="113.90" font-size="22.6" font-family="DejaVu Sans, Liberation Sans, sans-serif" font-weight="bold" text-anchor="start" letter-spacing="2.8" stroke="#000" stroke-width="0.7">****</text>
<line x1="1579.60" y1="167.20" x2="1615.70" y2="167.20" stroke="#000" stroke-width="1.8"/>
<line x1="1580.60" y1="161.70" x2="1580.60" y2="172.70" stroke="#000" stroke-width="2"/>
<line x1="1614.70" y1="161.70" x2="1614.70" y2="172.70" stroke="#000" stroke-width="2"/>
<text x="1580.50" y="156.70" font-size="22.6" font-family="DejaVu Sans, Liberation Sans, sans-serif" font-weight="bold" text-anchor="start" letter-spacing="2.8" stroke="#000" stroke-width="0.7">**</text>
</svg>
</body></html>
